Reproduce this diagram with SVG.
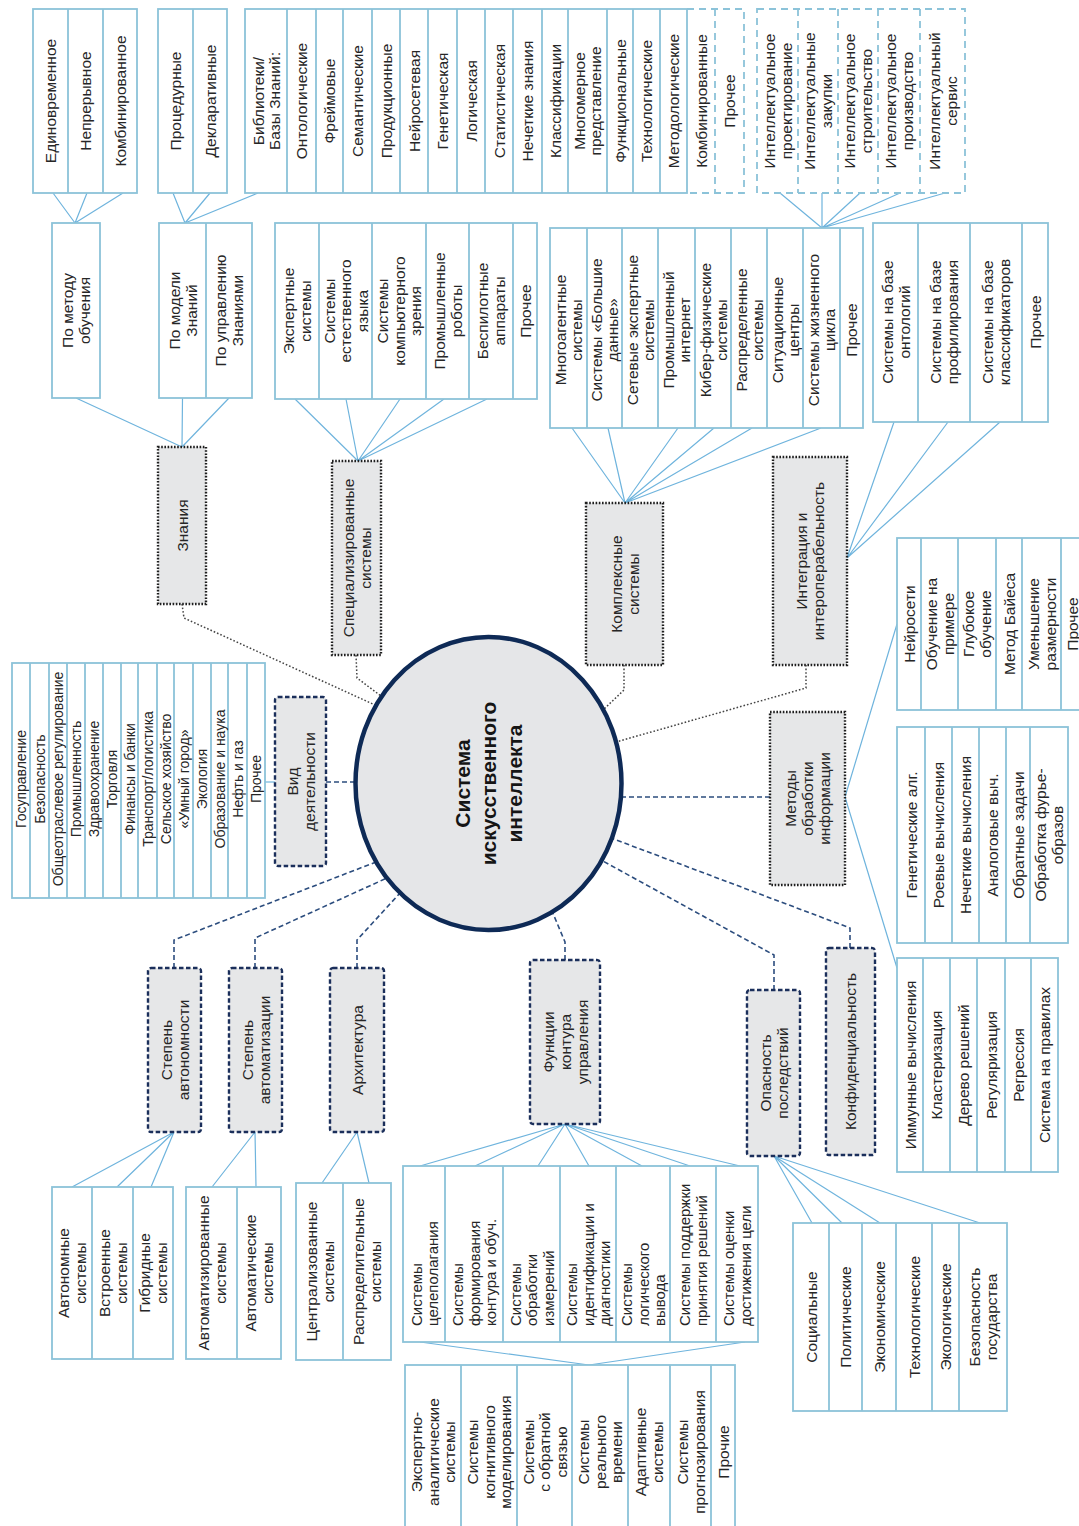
<svg xmlns="http://www.w3.org/2000/svg" width="1079" height="1526" viewBox="0 0 1079 1526">
<style>
.leaf{fill:#fff;stroke:#8cc3d9;stroke-width:1.8}
.leafd{fill:#fff;stroke:#8cc3d9;stroke-width:1.8;stroke-dasharray:7 5}
.dv{fill:none;stroke:#8cc3d9;stroke-width:1.8}
.dvd{fill:none;stroke:#8cc3d9;stroke-width:1.8;stroke-dasharray:7 5}
.t{font-family:"Liberation Sans",Arial,sans-serif;font-size:15.5px;fill:#262626;text-anchor:middle}
.t tspan{dominant-baseline:central}
.sm{font-size:14px}
.md{font-size:15px}
.ts{text-anchor:start}
.big{font-size:21px;font-weight:bold;fill:#151515}
.catk{fill:#e6e7e8;stroke:#1e1e1e;stroke-width:2.4;stroke-dasharray:1.6 1.6}
.catn{fill:#e6e7e8;stroke:#1b2f5b;stroke-width:2.4;stroke-dasharray:4.5 2.5}
.ln{fill:none;stroke:#6fb4dd;stroke-width:1.2}
.ck{fill:none;stroke:#444;stroke-width:1.5;stroke-dasharray:1.6 2}
.cn{fill:none;stroke:#2c4d7e;stroke-width:1.6;stroke-dasharray:5 3}
</style>
<rect width="1079" height="1526" fill="#fff"/>

<g id="connectors">
  <path class="ln" d="M53 193L75 223M87 193L75 223M123 193L75 223"/>
  <path class="ln" d="M173 193L185 223M210 193L185 223M258 193L185 223"/>
  <path class="ln" d="M76 398L182 447M182.5 398L182 447M229 398L182 447"/>
  <path class="ln" d="M295 399L358 461M346 399L358 461M400 399L358 461M444 399L358 461M487 399L358 461"/>
  <path class="ln" d="M780 193L822 228M822 193L822 228M860 193L822 228M900 193L822 228M945 193L822 228"/>
  <path class="ln" d="M572 428L625 503M608 428L625 503M678 428L625 503M714 428L625 503M752 428L625 503M821 428L625 503"/>
  <path class="ln" d="M894 422L847 558M948 422L847 558M1000 422L847 558"/>
  <path class="ln" d="M845 797L897 624M845 797L897 968"/>
  <path class="ln" d="M265 782H275"/>
  <path class="ln" d="M174 1132L72 1187M174 1132L117 1187M174 1132L151 1187"/>
  <path class="ln" d="M255 1132L212 1187M255 1132L256 1187"/>
  <path class="ln" d="M357 1132L322 1183M357 1132L369 1183"/>
  <path class="ln" d="M565 1124L420 1166M565 1124L475 1166M565 1124L538 1166M565 1124L589 1166M565 1124L642 1166M565 1124L690 1166M565 1124L740 1166"/>
  <path class="ln" d="M420 1342L589 1365M745 1342L589 1365"/>
  <path class="ln" d="M774 1156L812 1223M774 1156L842 1223M774 1156L880 1223M774 1156L980 1223"/>
  <path class="ck" d="M182 604L184 618L375 705"/>
  <path class="ck" d="M356 655L357 678L381 696"/>
  <path class="ck" d="M624 665L624 690L603 710"/>
  <path class="ck" d="M806 665L806 688L616 742"/>
  <path class="cn" d="M621 797H770"/>
  <path class="cn" d="M326 782H355"/>
  <path class="cn" d="M174 968V940L376 862"/>
  <path class="cn" d="M255 968V938L387 878"/>
  <path class="cn" d="M357 968V940L400 893"/>
  <path class="cn" d="M565 960V942L552 911"/>
  <path class="cn" d="M774 990V955L601 860"/>
  <path class="cn" d="M850 948V928L611 838"/>
</g>

<g id="learn-leaves">
  <rect class="leaf" x="33" y="9" width="104" height="184"/>
  <path class="dv" d="M68 9V193M103 9V193"/>
  <text class="t" transform="translate(50.5,101) rotate(-90)"><tspan x="0" y="0">Единовременное</tspan></text>
  <text class="t" transform="translate(85.5,101) rotate(-90)"><tspan x="0" y="0">Непрерывное</tspan></text>
  <text class="t" transform="translate(120,101) rotate(-90)"><tspan x="0" y="0">Комбинированное</tspan></text>
</g>
<g id="know-leaves">
  <rect class="leaf" x="158" y="9" width="69" height="184"/>
  <path class="dv" d="M193 9V193"/>
  <text class="t" transform="translate(175.5,101) rotate(-90)"><tspan x="0" y="0">Процедурные</tspan></text>
  <text class="t" transform="translate(210,101) rotate(-90)"><tspan x="0" y="0">Декларативные</tspan></text>
</g>
<g id="kb-leaves">
  <path class="dvd" d="M687 9H744V193H687M715 9V193"/>
  <rect class="leaf" x="245" y="9" width="442" height="184"/>
  <path class="dv" d="M287 9V193M316 9V193M343 9V193M372 9V193M400 9V193M428 9V193M457 9V193M485 9V193M513 9V193M542 9V193M568 9V193M607 9V193M633 9V193M660 9V193"/>
  <text class="t" transform="translate(266,101) rotate(-90)"><tspan x="0" y="-8">Библиотеки/</tspan><tspan x="0" y="8">Базы Знаний:</tspan></text>
  <text class="t" transform="translate(301.5,101) rotate(-90)"><tspan x="0" y="0">Онтологические</tspan></text>
  <text class="t" transform="translate(329.5,101) rotate(-90)"><tspan x="0" y="0">Фреймовые</tspan></text>
  <text class="t" transform="translate(357.5,101) rotate(-90)"><tspan x="0" y="0">Семантические</tspan></text>
  <text class="t" transform="translate(386,101) rotate(-90)"><tspan x="0" y="0">Продукционные</tspan></text>
  <text class="t" transform="translate(414,101) rotate(-90)"><tspan x="0" y="0">Нейросетевая</tspan></text>
  <text class="t" transform="translate(442.5,101) rotate(-90)"><tspan x="0" y="0">Генетическая</tspan></text>
  <text class="t" transform="translate(471,101) rotate(-90)"><tspan x="0" y="0">Логическая</tspan></text>
  <text class="t" transform="translate(499,101) rotate(-90)"><tspan x="0" y="0">Статистическая</tspan></text>
  <text class="t" transform="translate(527.5,101) rotate(-90)"><tspan x="0" y="0">Нечеткие знания</tspan></text>
  <text class="t" transform="translate(555,101) rotate(-90)"><tspan x="0" y="0">Классификации</tspan></text>
  <text class="t" transform="translate(587.5,101) rotate(-90)"><tspan x="0" y="-8">Многомерное</tspan><tspan x="0" y="8">представление</tspan></text>
  <text class="t" transform="translate(620,101) rotate(-90)"><tspan x="0" y="0">Функциональные</tspan></text>
  <text class="t" transform="translate(646.5,101) rotate(-90)"><tspan x="0" y="0">Технологические</tspan></text>
  <text class="t" transform="translate(673.5,101) rotate(-90)"><tspan x="0" y="0">Методологические</tspan></text>
  <text class="t" transform="translate(701,101) rotate(-90)"><tspan x="0" y="0">Комбинированные</tspan></text>
  <text class="t" transform="translate(729.5,101) rotate(-90)"><tspan x="0" y="0">Прочее</tspan></text>
</g>
<g id="intel-leaves">
  <rect class="leafd" x="757" y="9" width="208" height="184"/>
  <path class="dvd" d="M798 9V193M838 9V193M878 9V193M920 9V193"/>
  <text class="t" transform="translate(777.5,101) rotate(-90)"><tspan x="0" y="-8.5">Интеллектуальное</tspan><tspan x="0" y="8.5">проектирование</tspan></text>
  <text class="t" transform="translate(818,101) rotate(-90)"><tspan x="0" y="-8.5">Интеллектуальные</tspan><tspan x="0" y="8.5">закупки</tspan></text>
  <text class="t" transform="translate(858,101) rotate(-90)"><tspan x="0" y="-8.5">Интеллектуальное</tspan><tspan x="0" y="8.5">строительство</tspan></text>
  <text class="t" transform="translate(899,101) rotate(-90)"><tspan x="0" y="-8.5">Интеллектуальное</tspan><tspan x="0" y="8.5">производство</tspan></text>
  <text class="t" transform="translate(942.5,101) rotate(-90)"><tspan x="0" y="-8.5">Интеллектуальный</tspan><tspan x="0" y="8.5">сервис</tspan></text>
</g>

<g id="learn-method">
  <rect class="leaf" x="52" y="223" width="48" height="175"/>
  <text class="t" transform="translate(76,310.5) rotate(-90)"><tspan x="0" y="-8.5">По методу</tspan><tspan x="0" y="8.5">обучения</tspan></text>
</g>
<g id="know-model">
  <rect class="leaf" x="159" y="223" width="93" height="175"/>
  <path class="dv" d="M206 223V398"/>
  <text class="t" transform="translate(182.5,310.5) rotate(-90)"><tspan x="0" y="-8.5">По модели</tspan><tspan x="0" y="8.5">Знаний</tspan></text>
  <text class="t" transform="translate(229,310.5) rotate(-90)"><tspan x="0" y="-8.5">По управлению</tspan><tspan x="0" y="8.5">Знаниями</tspan></text>
</g>
<g id="spec-leaves">
  <rect class="leaf" x="275" y="223" width="262" height="176"/>
  <path class="dv" d="M319 223V399M372 223V399M426 223V399M469 223V399M513 223V399"/>
  <text class="t" transform="translate(297,311) rotate(-90)"><tspan x="0" y="-8.5">Экспертные</tspan><tspan x="0" y="8.5">системы</tspan></text>
  <text class="t" transform="translate(345.5,311) rotate(-90)"><tspan x="0" y="-16.5">Системы</tspan><tspan x="0" y="0">естественного</tspan><tspan x="0" y="16.5">языка</tspan></text>
  <text class="t" transform="translate(399,311) rotate(-90)"><tspan x="0" y="-16.5">Системы</tspan><tspan x="0" y="0">компьютерного</tspan><tspan x="0" y="16.5">зрения</tspan></text>
  <text class="t" transform="translate(447.5,311) rotate(-90)"><tspan x="0" y="-8.5">Промышленные</tspan><tspan x="0" y="8.5">роботы</tspan></text>
  <text class="t" transform="translate(491,311) rotate(-90)"><tspan x="0" y="-8.5">Беспилотные</tspan><tspan x="0" y="8.5">аппараты</tspan></text>
  <text class="t" transform="translate(525,311) rotate(-90)"><tspan x="0" y="0">Прочее</tspan></text>
</g>
<g id="complex-leaves">
  <rect class="leaf" x="550" y="228" width="313" height="200"/>
  <path class="dv" d="M587 228V428M622 228V428M658 228V428M695 228V428M731 228V428M767 228V428M803 228V428M840 228V428"/>
  <text class="t" transform="translate(568.5,330) rotate(-90)"><tspan x="0" y="-8">Многоагентные</tspan><tspan x="0" y="8">системы</tspan></text>
  <text class="t" transform="translate(604.5,330) rotate(-90)"><tspan x="0" y="-8">Системы «Большие</tspan><tspan x="0" y="8">данные»</tspan></text>
  <text class="t" transform="translate(640,330) rotate(-90)"><tspan x="0" y="-8">Сетевые экспертные</tspan><tspan x="0" y="8">системы</tspan></text>
  <text class="t" transform="translate(676.5,330) rotate(-90)"><tspan x="0" y="-8">Промышленный</tspan><tspan x="0" y="8">интернет</tspan></text>
  <text class="t" transform="translate(713,330) rotate(-90)"><tspan x="0" y="-8">Кибер-физические</tspan><tspan x="0" y="8">системы</tspan></text>
  <text class="t" transform="translate(749,330) rotate(-90)"><tspan x="0" y="-8">Распределенные</tspan><tspan x="0" y="8">системы</tspan></text>
  <text class="t" transform="translate(785,330) rotate(-90)"><tspan x="0" y="-8">Ситуационные</tspan><tspan x="0" y="8">центры</tspan></text>
  <text class="t" transform="translate(821.5,330) rotate(-90)"><tspan x="0" y="-8">Системы жизненного</tspan><tspan x="0" y="8">цикла</tspan></text>
  <text class="t" transform="translate(851.5,330) rotate(-90)"><tspan x="0" y="0">Прочее</tspan></text>
</g>
<g id="integ-leaves">
  <rect class="leaf" x="873" y="223" width="175" height="199"/>
  <path class="dv" d="M918 223V422M970 223V422M1022 223V422"/>
  <text class="t" transform="translate(895.5,322) rotate(-90)"><tspan x="0" y="-8.5">Системы на базе</tspan><tspan x="0" y="8.5">онтологий</tspan></text>
  <text class="t" transform="translate(944,322) rotate(-90)"><tspan x="0" y="-8.5">Системы на базе</tspan><tspan x="0" y="8.5">профилирования</tspan></text>
  <text class="t" transform="translate(996,322) rotate(-90)"><tspan x="0" y="-8.5">Системы на базе</tspan><tspan x="0" y="8.5">классификаторов</tspan></text>
  <text class="t" transform="translate(1035,322) rotate(-90)"><tspan x="0" y="0">Прочее</tspan></text>
</g>

<g id="ai-system">
  <ellipse cx="488.5" cy="783.5" rx="133" ry="146.5" fill="#e5e6e8" stroke="#0e2a56" stroke-width="4.5"/>
  <text class="t big" transform="translate(488.5,783.5) rotate(-90)"><tspan x="0" y="-26">Система</tspan><tspan x="0" y="0">искусственного</tspan><tspan x="0" y="26">интеллекта</tspan></text>
</g>

<g id="knowledge">
  <rect class="catk" x="158" y="447" width="48" height="157"/>
  <text class="t" transform="translate(182,525.5) rotate(-90)"><tspan x="0" y="0">Знания</tspan></text>
</g>
<g id="specialized">
  <rect class="catk" x="332" y="461" width="49" height="194"/>
  <text class="t" transform="translate(356.5,558) rotate(-90)"><tspan x="0" y="-8.5">Специализированные</tspan><tspan x="0" y="8.5">системы</tspan></text>
</g>
<g id="complex">
  <rect class="catk" x="586" y="503" width="77" height="162"/>
  <text class="t" transform="translate(624.5,584) rotate(-90)"><tspan x="0" y="-8.5">Комплексные</tspan><tspan x="0" y="8.5">системы</tspan></text>
</g>
<g id="integration">
  <rect class="catk" x="773" y="457" width="74" height="208"/>
  <text class="t" transform="translate(810,561) rotate(-90)"><tspan x="0" y="-8.5">Интеграция и</tspan><tspan x="0" y="8.5">интероперабельность</tspan></text>
</g>
<g id="methods">
  <rect class="catk" x="770" y="712" width="75" height="173"/>
  <text class="t" transform="translate(807.5,798.5) rotate(-90)"><tspan x="0" y="-17">Методы</tspan><tspan x="0" y="0">обработки</tspan><tspan x="0" y="17">информации</tspan></text>
</g>
<g id="activity">
  <rect class="catn" x="275" y="697" width="51" height="169" rx="3"/>
  <text class="t" transform="translate(300.5,781.5) rotate(-90)"><tspan x="0" y="-8.5">Вид</tspan><tspan x="0" y="8.5">деятельности</tspan></text>
</g>
<g id="autonomy">
  <rect class="catn" x="148" y="968" width="53" height="164" rx="3"/>
  <text class="t" transform="translate(174.5,1050) rotate(-90)"><tspan x="0" y="-8.5">Степень</tspan><tspan x="0" y="8.5">автономности</tspan></text>
</g>
<g id="automation">
  <rect class="catn" x="229" y="968" width="53" height="164" rx="3"/>
  <text class="t" transform="translate(255.5,1050) rotate(-90)"><tspan x="0" y="-8.5">Степень</tspan><tspan x="0" y="8.5">автоматизации</tspan></text>
</g>
<g id="architecture">
  <rect class="catn" x="330" y="968" width="54" height="164" rx="3"/>
  <text class="t" transform="translate(357,1050) rotate(-90)"><tspan x="0" y="0">Архитектура</tspan></text>
</g>
<g id="control-functions">
  <rect class="catn" x="530" y="960" width="70" height="164" rx="3"/>
  <text class="t" transform="translate(565,1042) rotate(-90)"><tspan x="0" y="-17">Функции</tspan><tspan x="0" y="0">контура</tspan><tspan x="0" y="17">управления</tspan></text>
</g>
<g id="danger">
  <rect class="catn" x="747" y="990" width="53" height="166" rx="3"/>
  <text class="t" transform="translate(773.5,1073) rotate(-90)"><tspan x="0" y="-8.5">Опасность</tspan><tspan x="0" y="8.5">последствий</tspan></text>
</g>
<g id="privacy">
  <rect class="catn" x="826" y="948" width="49" height="207" rx="3"/>
  <text class="t" transform="translate(850.5,1051.5) rotate(-90)"><tspan x="0" y="0">Конфиденциальность</tspan></text>
</g>

<g id="activity-leaves">
  <rect class="leaf" x="12" y="663" width="253" height="235"/>
  <path class="dv" d="M30 663V898M49 663V898M67 663V898M85 663V898M103 663V898M121 663V898M138 663V898M157 663V898M174 663V898M193 663V898M211 663V898M228 663V898M247 663V898"/>
  <text class="t sm" transform="translate(21,779) rotate(-90)"><tspan x="0" y="0">Госуправление</tspan></text>
  <text class="t sm" transform="translate(39.5,779) rotate(-90)"><tspan x="0" y="0">Безопасность</tspan></text>
  <text class="t sm" transform="translate(58,779) rotate(-90)"><tspan x="0" y="0">Общеотраслевое регулирование</tspan></text>
  <text class="t sm" transform="translate(76,779) rotate(-90)"><tspan x="0" y="0">Промышленность</tspan></text>
  <text class="t sm" transform="translate(94,779) rotate(-90)"><tspan x="0" y="0">Здравоохранение</tspan></text>
  <text class="t sm" transform="translate(112,779) rotate(-90)"><tspan x="0" y="0">Торговля</tspan></text>
  <text class="t sm" transform="translate(129.5,779) rotate(-90)"><tspan x="0" y="0">Финансы и банки</tspan></text>
  <text class="t sm" transform="translate(147.5,779) rotate(-90)"><tspan x="0" y="0">Транспорт/логистика</tspan></text>
  <text class="t sm" transform="translate(165.5,779) rotate(-90)"><tspan x="0" y="0">Сельское хозяйство</tspan></text>
  <text class="t sm" transform="translate(183.5,779) rotate(-90)"><tspan x="0" y="0">«Умный город»</tspan></text>
  <text class="t sm" transform="translate(202,779) rotate(-90)"><tspan x="0" y="0">Экология</tspan></text>
  <text class="t sm" transform="translate(219.5,779) rotate(-90)"><tspan x="0" y="0">Образование и наука</tspan></text>
  <text class="t sm" transform="translate(237.5,779) rotate(-90)"><tspan x="0" y="0">Нефть и газ</tspan></text>
  <text class="t sm" transform="translate(256,779) rotate(-90)"><tspan x="0" y="0">Прочее</tspan></text>
</g>

<g id="neural-leaves">
  <rect class="leaf" x="897" y="538" width="193" height="172"/>
  <path class="dv" d="M921 538V710M958 538V710M996 538V710M1022 538V710M1061 538V710"/>
  <text class="t" transform="translate(909,624) rotate(-90)"><tspan x="0" y="0">Нейросети</tspan></text>
  <text class="t" transform="translate(939.5,624) rotate(-90)"><tspan x="0" y="-8.5">Обучение на</tspan><tspan x="0" y="8.5">примере</tspan></text>
  <text class="t" transform="translate(977,624) rotate(-90)"><tspan x="0" y="-8.5">Глубокое</tspan><tspan x="0" y="8.5">обучение</tspan></text>
  <text class="t" transform="translate(1009,624) rotate(-90)"><tspan x="0" y="0">Метод Байеса</tspan></text>
  <text class="t" transform="translate(1041.5,624) rotate(-90)"><tspan x="0" y="-8.5">Уменьшение</tspan><tspan x="0" y="8.5">размерности</tspan></text>
  <text class="t" transform="translate(1072,624) rotate(-90)"><tspan x="0" y="0">Прочее</tspan></text>
</g>
<g id="genetic-leaves">
  <rect class="leaf" x="897" y="727" width="171" height="216"/>
  <path class="dv" d="M925 727V943M952 727V943M979 727V943M1006 727V943M1030 727V943"/>
  <text class="t" transform="translate(911,835) rotate(-90)"><tspan x="0" y="0">Генетические алг.</tspan></text>
  <text class="t" transform="translate(938.5,835) rotate(-90)"><tspan x="0" y="0">Роевые вычисления</tspan></text>
  <text class="t" transform="translate(965.5,835) rotate(-90)"><tspan x="0" y="0">Нечеткие вычисления</tspan></text>
  <text class="t" transform="translate(992.5,835) rotate(-90)"><tspan x="0" y="0">Аналоговые выч.</tspan></text>
  <text class="t" transform="translate(1018,835) rotate(-90)"><tspan x="0" y="0">Обратные задачи</tspan></text>
  <text class="t" transform="translate(1049,835) rotate(-90)"><tspan x="0" y="-8.5">Обработка фурье-</tspan><tspan x="0" y="8.5">образов</tspan></text>
</g>
<g id="immune-leaves">
  <rect class="leaf" x="897" y="958" width="161" height="214"/>
  <path class="dv" d="M923 958V1172M950 958V1172M977 958V1172M1005 958V1172M1031 958V1172"/>
  <text class="t" transform="translate(910,1065) rotate(-90)"><tspan x="0" y="0">Иммунные вычисления</tspan></text>
  <text class="t" transform="translate(936.5,1065) rotate(-90)"><tspan x="0" y="0">Кластеризация</tspan></text>
  <text class="t" transform="translate(963.5,1065) rotate(-90)"><tspan x="0" y="0">Дерево решений</tspan></text>
  <text class="t" transform="translate(991,1065) rotate(-90)"><tspan x="0" y="0">Регуляризация</tspan></text>
  <text class="t" transform="translate(1018,1065) rotate(-90)"><tspan x="0" y="0">Регрессия</tspan></text>
  <text class="t" transform="translate(1044.5,1065) rotate(-90)"><tspan x="0" y="0">Система на правилах</tspan></text>
</g>

<g id="autonomy-leaves">
  <rect class="leaf" x="52" y="1187" width="121" height="172"/>
  <path class="dv" d="M92 1187V1359M133 1187V1359"/>
  <text class="t" transform="translate(72,1273) rotate(-90)"><tspan x="0" y="-8.5">Автономные</tspan><tspan x="0" y="8.5">системы</tspan></text>
  <text class="t" transform="translate(112.5,1273) rotate(-90)"><tspan x="0" y="-8.5">Встроенные</tspan><tspan x="0" y="8.5">системы</tspan></text>
  <text class="t" transform="translate(153,1273) rotate(-90)"><tspan x="0" y="-8.5">Гибридные</tspan><tspan x="0" y="8.5">системы</tspan></text>
</g>
<g id="automation-leaves">
  <rect class="leaf" x="186" y="1187" width="95" height="172"/>
  <path class="dv" d="M237 1187V1359"/>
  <text class="t" transform="translate(211.5,1273) rotate(-90)"><tspan x="0" y="-8.5">Автоматизированные</tspan><tspan x="0" y="8.5">системы</tspan></text>
  <text class="t" transform="translate(259,1273) rotate(-90)"><tspan x="0" y="-8.5">Автоматические</tspan><tspan x="0" y="8.5">системы</tspan></text>
</g>
<g id="architecture-leaves">
  <rect class="leaf" x="296" y="1183" width="95" height="177"/>
  <path class="dv" d="M343 1183V1360"/>
  <text class="t" transform="translate(319.5,1271.5) rotate(-90)"><tspan x="0" y="-8.5">Централизованные</tspan><tspan x="0" y="8.5">системы</tspan></text>
  <text class="t" transform="translate(367,1271.5) rotate(-90)"><tspan x="0" y="-8.5">Распределительные</tspan><tspan x="0" y="8.5">системы</tspan></text>
</g>
<g id="function-leaves">
  <rect class="leaf" x="403" y="1166" width="355" height="176"/>
  <path class="dv" d="M445 1166V1342M503 1166V1342M560 1166V1342M616 1166V1342M670 1166V1342M716 1166V1342"/>
  <text class="t md ts" transform="translate(424,1326) rotate(-90)"><tspan x="0" y="-8">Системы</tspan><tspan x="0" y="8">целеполагания</tspan></text>
  <text class="t md ts" transform="translate(474,1326) rotate(-90)"><tspan x="0" y="-16.5">Системы</tspan><tspan x="0" y="0">формирования</tspan><tspan x="0" y="16.5">контура и обуч.</tspan></text>
  <text class="t md ts" transform="translate(531.5,1326) rotate(-90)"><tspan x="0" y="-16.5">Системы</tspan><tspan x="0" y="0">обработки</tspan><tspan x="0" y="16.5">измерений</tspan></text>
  <text class="t md ts" transform="translate(588,1326) rotate(-90)"><tspan x="0" y="-16.5">Системы</tspan><tspan x="0" y="0">идентификации и</tspan><tspan x="0" y="16.5">диагностики</tspan></text>
  <text class="t md ts" transform="translate(643,1326) rotate(-90)"><tspan x="0" y="-16.5">Системы</tspan><tspan x="0" y="0">логического</tspan><tspan x="0" y="16.5">вывода</tspan></text>
  <text class="t md ts" transform="translate(693,1326) rotate(-90)"><tspan x="0" y="-8.5">Системы поддержки</tspan><tspan x="0" y="8.5">принятия решений</tspan></text>
  <text class="t md ts" transform="translate(737,1326) rotate(-90)"><tspan x="0" y="-8.5">Системы оценки</tspan><tspan x="0" y="8.5">достижения цели</tspan></text>
</g>
<g id="function-leaves-2">
  <rect class="leaf" x="405" y="1365" width="330" height="180"/>
  <path class="dv" d="M461 1365V1545M517 1365V1545M572 1365V1545M628 1365V1545M670 1365V1545M711 1365V1545"/>
  <text class="t" transform="translate(433,1452) rotate(-90)"><tspan x="0" y="-16.5">Экспертно-</tspan><tspan x="0" y="0">аналитические</tspan><tspan x="0" y="16.5">системы</tspan></text>
  <text class="t" transform="translate(489,1452) rotate(-90)"><tspan x="0" y="-16.5">Системы</tspan><tspan x="0" y="0">когнитивного</tspan><tspan x="0" y="16.5">моделирования</tspan></text>
  <text class="t" transform="translate(544.5,1452) rotate(-90)"><tspan x="0" y="-16.5">Системы</tspan><tspan x="0" y="0">с обратной</tspan><tspan x="0" y="16.5">связью</tspan></text>
  <text class="t" transform="translate(600,1452) rotate(-90)"><tspan x="0" y="-16.5">Системы</tspan><tspan x="0" y="0">реального</tspan><tspan x="0" y="16.5">времени</tspan></text>
  <text class="t" transform="translate(649,1452) rotate(-90)"><tspan x="0" y="-8.5">Адаптивные</tspan><tspan x="0" y="8.5">системы</tspan></text>
  <text class="t" transform="translate(690.5,1452) rotate(-90)"><tspan x="0" y="-8.5">Системы</tspan><tspan x="0" y="8.5">прогнозирования</tspan></text>
  <text class="t" transform="translate(723,1452) rotate(-90)"><tspan x="0" y="0">Прочие</tspan></text>
</g>
<g id="danger-leaves">
  <rect class="leaf" x="793" y="1223" width="214" height="188"/>
  <path class="dv" d="M829 1223V1411M862 1223V1411M896 1223V1411M932 1223V1411M959 1223V1411"/>
  <text class="t" transform="translate(811,1317) rotate(-90)"><tspan x="0" y="0">Социальные</tspan></text>
  <text class="t" transform="translate(845.5,1317) rotate(-90)"><tspan x="0" y="0">Политические</tspan></text>
  <text class="t" transform="translate(879,1317) rotate(-90)"><tspan x="0" y="0">Экономические</tspan></text>
  <text class="t" transform="translate(914,1317) rotate(-90)"><tspan x="0" y="0">Технологические</tspan></text>
  <text class="t" transform="translate(945.5,1317) rotate(-90)"><tspan x="0" y="0">Экологические</tspan></text>
  <text class="t" transform="translate(983,1317) rotate(-90)"><tspan x="0" y="-8.5">Безопасность</tspan><tspan x="0" y="8.5">государства</tspan></text>
</g>
</svg>
